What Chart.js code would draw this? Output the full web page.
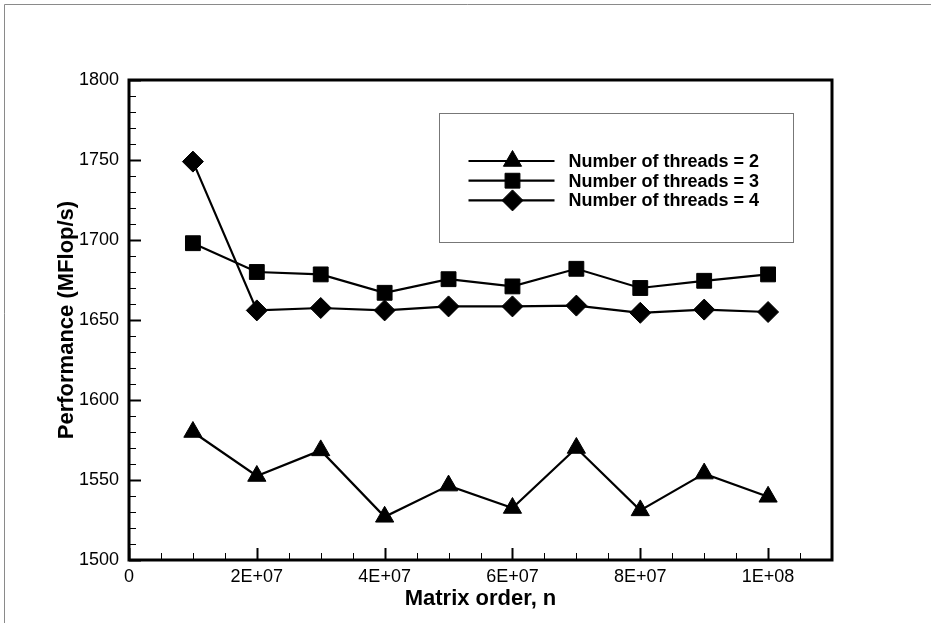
<!DOCTYPE html>
<html>
<head>
<meta charset="utf-8">
<title>Performance vs matrix order</title>
<script src="https://cdn.jsdelivr.net/npm/chart.js@4.4.1/dist/chart.umd.min.js"></script>
<style>
  html, body { margin: 0; padding: 0; background: #fff; }
  #wrap { position: relative; width: 931px; height: 623px; }
</style>
</head>
<body>
<div id="wrap"><canvas id="perfChart"></canvas></div>
<script>
// matrix order n and measured performance (MFlop/s) per thread count
const matrixOrder = [1e7, 2e7, 3e7, 4e7, 5e7, 6e7, 7e7, 8e7, 9e7, 1e8];
const threads2 = [1580, 1552.5, 1568.5, 1527, 1546.5, 1532.5, 1570, 1531, 1554, 1539.5];
const threads3 = [1698, 1680, 1678.5, 1667, 1675.5, 1671, 1682, 1670, 1674.5, 1678.5];
const threads4 = [1749, 1656, 1657.5, 1656, 1658.5, 1658.5, 1659, 1654.5, 1656.5, 1655];
const seriesLabels = ["Number of threads = 2", "Number of threads = 3", "Number of threads = 4"];
const xTickValues = [0, 2e7, 4e7, 6e7, 8e7, 1e8];
const yTickValues = [1500, 1550, 1600, 1650, 1700, 1750, 1800];

const FONT = "'Liberation Sans', Arial, Helvetica, sans-serif";

function sciLabel(v) {
    if (v === 0) return "0";
    const exp = Math.floor(Math.log10(v));
    const mant = Math.round(v / Math.pow(10, exp));
    return mant + "E+" + String(exp).padStart(2, "0");
}

function series(values, label, style) {
    return {
        label: label,
        data: matrixOrder.map((x, i) => ({ x: x, y: values[i] })),
        pointStyle: style,
        pointRadius: 10.5,
        pointBorderWidth: 1,
        borderColor: "#000",
        backgroundColor: "#000",
        pointBackgroundColor: "#000",
        pointBorderColor: "#000",
        borderWidth: 2.2,
        tension: 0,
        fill: false,
    };
}

// outer page frame, plot box and inward tick marks
const framePlugin = {
    id: "framePlugin",
    beforeDraw(chart) {
        const ctx = chart.ctx;
        ctx.save();
        ctx.fillStyle = "#fff";
        ctx.fillRect(0, 0, chart.width, chart.height);
        ctx.strokeStyle = "#8a8a8a";
        ctx.lineWidth = 1;
        ctx.beginPath();
        ctx.moveTo(4.5, chart.height);
        ctx.lineTo(4.5, 4.5);
        ctx.lineTo(chart.width, 4.5);
        ctx.stroke();
        ctx.restore();
    },
    afterDraw(chart) {
        const { ctx, chartArea: a, scales } = chart;
        const xs = scales.x, ys = scales.y;
        ctx.save();
        ctx.strokeStyle = "#000";

        // x ticks every 5E+06, labelled ones longer
        for (let k = 0; k * 5e6 <= xs.max; k++) {
            const px = Math.round(xs.getPixelForValue(k * 5e6)) + 0.5;
            const major = k % 4 === 0;
            ctx.lineWidth = major ? 2 : 1;
            ctx.beginPath();
            ctx.moveTo(px, a.bottom);
            ctx.lineTo(px, a.bottom - (major ? 12 : 7));
            ctx.stroke();
        }
        // y ticks every 10, labelled ones longer
        for (let k = 0; ys.min + k * 10 <= ys.max; k++) {
            const py = Math.round(ys.getPixelForValue(ys.min + k * 10)) + 0.5;
            const major = k % 5 === 0;
            ctx.lineWidth = major ? 2 : 1;
            ctx.beginPath();
            ctx.moveTo(a.left, py);
            ctx.lineTo(a.left + (major ? 12 : 7), py);
            ctx.stroke();
        }

        ctx.lineWidth = 3;
        ctx.strokeRect(a.left, a.top, a.right - a.left, a.bottom - a.top);
        ctx.restore();
    },
};

// boxed legend with line-through-marker samples
const legendPlugin = {
    id: "legendPlugin",
    afterDraw(chart) {
        const { ctx, chartArea: a } = chart;
        const bx = a.left + 310.5, by = a.top + 33.5;
        ctx.save();
        ctx.strokeStyle = "#777";
        ctx.lineWidth = 1;
        ctx.strokeRect(bx, by, 354, 129);

        chart.data.datasets.forEach((ds, i) => {
            const ry = by + 47.5 + i * 19.7;
            ctx.strokeStyle = "#000";
            ctx.fillStyle = "#000";
            ctx.lineWidth = 2.2;
            ctx.beginPath();
            ctx.moveTo(bx + 29, ry);
            ctx.lineTo(bx + 115, ry);
            ctx.stroke();
            ctx.lineWidth = 1;
            Chart.helpers.drawPoint(ctx, {
                pointStyle: ds.pointStyle,
                radius: ds.pointRadius,
                borderWidth: 1,
                rotation: 0,
            }, bx + 73, ry);
            ctx.font = "bold 18px " + FONT;
            ctx.textAlign = "left";
            ctx.textBaseline = "middle";
            ctx.fillText(ds.label, bx + 129, ry + 1);
        });
        ctx.restore();
    },
};

new Chart(document.getElementById("perfChart"), {
    type: "line",
    data: {
        datasets: [
            series(threads2, seriesLabels[0], "triangle"),
            series(threads3, seriesLabels[1], "rect"),
            series(threads4, seriesLabels[2], "rectRot"),
        ],
    },
    options: {
        responsive: true,
        maintainAspectRatio: false,
        animation: false,
        events: [],
        layout: { padding: { left: 0, top: 80, right: 99, bottom: 0 } },
        plugins: {
            legend: { display: false },
            tooltip: { enabled: false },
        },
        scales: {
            x: {
                type: "linear",
                min: 0,
                max: 1.1e8,
                grid: { display: false, drawTicks: false },
                border: { display: false },
                afterBuildTicks: (s) => { s.ticks = xTickValues.map((v) => ({ value: v })); },
                afterFit: (s) => { s.height = 63; },
                ticks: {
                    callback: (v) => sciLabel(v),
                    padding: 6,
                    maxRotation: 0,
                    autoSkip: false,
                    color: "#000",
                    font: { family: FONT, size: 18 },
                },
                title: {
                    display: true,
                    text: "Matrix order, n",
                    color: "#000",
                    font: { family: FONT, size: 22, weight: "bold" },
                    padding: { top: 0, bottom: 11 },
                },
            },
            y: {
                min: 1500,
                max: 1800,
                grid: { display: false, drawTicks: false },
                border: { display: false },
                afterBuildTicks: (s) => { s.ticks = yTickValues.map((v) => ({ value: v })); },
                afterFit: (s) => { s.width = 129; },
                ticks: {
                    callback: (v) => String(v),
                    padding: 10,
                    color: "#000",
                    font: { family: FONT, size: 18 },
                },
                title: {
                    display: true,
                    text: "Performance (MFlop/s)",
                    color: "#000",
                    font: { family: FONT, size: 22, weight: "bold" },
                    padding: { top: 54, bottom: 0 },
                },
            },
        },
    },
    plugins: [framePlugin, legendPlugin],
});
</script>
</body>
</html>
